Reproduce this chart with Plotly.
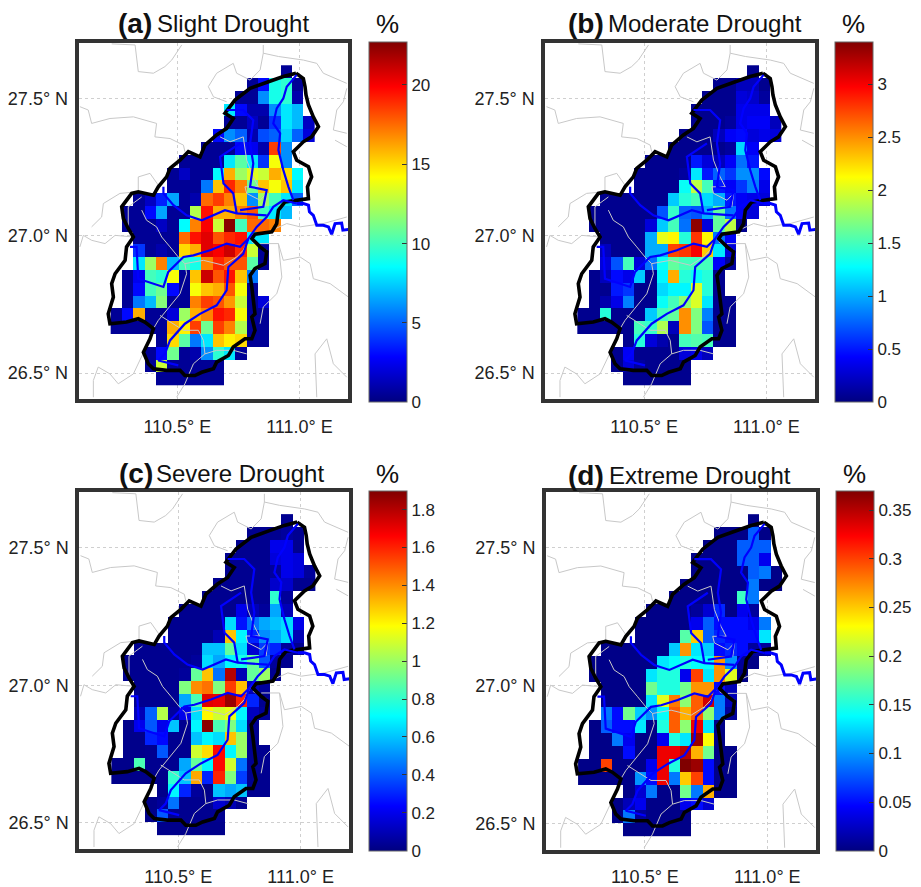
import plotly.graph_objects as go

# ---------- grid of the maps ----------
N_COLS = 18
GRID_LON_WEST = 110.227
GRID_LAT_NORTH = 27.622
CELL_LON = 0.0464
CELL_LAT = 0.0467

# each row, north to south: (first column, values in %)
SLIGHT = [
 (15,[.5]),
 (12,[.5,3,9,9.5,.5]),
 (11,[.5,.5,6,9,9.5,1]),
 (10,[8,3,1,1,6,8,7]),
 (10,[.5,.5,1.5,.5,4,8,7,1.5]),
 (9,[3,6,5,1,4.5,5,7.5,5,2]),
 (8,[.5,.5,.5,3,2.5,1,18.5,6]),
 (6,[.5,.5,.5,.5,8,10.5,8,4,14,6]),
 (5,[.5,1.5,.5,.5,8.5,16,12,13.5,13,16,15,8.5]),
 (5,[.5,.5,.5,5.5,15.5,19,17,11,15.5,14,15.5,8]),
 (2,[.5,1.5,3.5,6.5,.5,1,17.5,18.5,17,15.5,6,12,10,8,5]),
 (1,[.5,.5,3,6.5,.5,.5,12.5,19.5,16,16,17,18,10,8,7]),
 (1,[.5,.5,.5,1.5,.5,8.5,17,20,13,22.5,10,17.5,17.5,17]),
 (2,[.5,.5,.5,.5,17.5,19.5,20.5,18,19,19.5,8,8]),
 (2,[4,.5,1,.5,15,16,20.5,20,21,19,13,.5]),
 (2,[8,12,17,7,10,9,17,19,18,18,10.5,.5]),
 (1,[.5,2.5,10,9.5,14,.5,15.5,21,18,19.5,15.5,5.5]),
 (1,[.5,3,10,11,3,.5,14,15.5,16,18,14,.5]),
 (1,[.5,5.5,7,11.5,.5,.5,17,18.5,18,16.5,13,.5,2]),
 (0,[.5,3,16,.5,.5,2,12,16,17,19.5,19,14,.5,.5]),
 (0,[.5,.5,.5,.5,.5,16,14.5,18.5,11,18.5,17,12.5,.5,.5]),
 (4,[.5,15,10.5,5.5,8,15.5,14.5,15,.5,.5]),
 (3,[.5,3,11,.5,1,6,9.5,8,.5]),
 (3,[.5,13,.5,.5,.5,.5,.5]),
 (4,[.5,.5,.5,.5,.5,.5]),
]
MODERATE = [
 (15,[.05]),
 (12,[.05,.05,.2,.2,.05]),
 (11,[.05,.05,.05,.3,.25,.1]),
 (10,[.05,.05,.05,.05,.35,.35,.35]),
 (10,[.05,.05,.05,.1,.35,.4,.4,.2]),
 (9,[.05,.05,.05,.2,.4,.45,.3,.35,.3]),
 (8,[.05,.05,.05,.05,.05,.1,1.15,.4]),
 (6,[.05,.05,.05,.05,.5,.3,.2,.4,.8,.5]),
 (5,[.05,.05,.05,.05,.1,1.2,.5,.75,.6,.9,.9,.45]),
 (5,[.05,.05,.05,.05,1.3,1.9,1.5,.5,.4,.6,.85,.35]),
 (2,[.05,.05,.05,.05,.05,.05,1.1,1.4,1.5,1.15,1.0,.5,.4,.35,.3]),
 (1,[.05,.05,.05,.05,.05,.05,.7,1.45,.75,.7,1.0,1.6,.8,.4,.3]),
 (1,[.05,.05,.05,.05,.05,.3,1.1,1.5,.8,3.35,.3,1.6,1.9,.05]),
 (2,[.05,.05,.05,.05,1.0,2.05,2.15,1.4,2.8,2.15,.8,.4]),
 (2,[.2,.05,.05,.05,1.0,1.0,2.75,2.8,3.0,2.3,1.2,.3]),
 (2,[.3,.7,1.5,.3,.8,1.3,1.6,1.5,1.5,1.5,.4,.1]),
 (1,[.05,.2,.45,.35,1.1,.05,1.25,2.4,1.4,1.3,1.4,.05]),
 (1,[.05,.05,.5,.6,.05,.05,1.15,1.25,1.25,2.0,1.4,.05]),
 (1,[.05,.15,.35,.85,.05,.05,1.3,1.5,1.75,2.0,1.2,.05,.05]),
 (0,[.05,.05,1.4,.05,.05,.05,1.1,1.5,1.6,2.5,1.7,.85,.05,.05]),
 (0,[.05,.05,.05,.05,.05,1.5,1.45,1.85,.2,2.5,1.7,.7,.05,.05]),
 (4,[.05,1.4,.3,.15,.05,1.5,1.55,1.5,.05,.05]),
 (3,[.05,.4,.05,.05,.05,.05,.3,.35,.2]),
 (3,[.05,.3,.1,.05,.05,.05,.05]),
 (4,[.05,.05,.05,.05,.05,.05]),
]
SEVERE = [
 (15,[.03]),
 (12,[.03,.03,.03,.05,.03]),
 (11,[.03,.03,.03,.2,.2,.03]),
 (10,[.03,.03,.03,.03,.17,.2,.17]),
 (10,[.03,.03,.03,.03,.05,.2,.17,.05]),
 (9,[.03,.03,.03,.03,.03,.14,.14,.03,.03]),
 (8,[.03,.03,.03,.03,.03,.03,.8,.05]),
 (6,[.03,.03,.03,.03,.03,.2,.1,.05,.55,.1]),
 (5,[.03,.03,.03,.03,.03,.65,.27,.45,.55,.6,.65,.2]),
 (5,[.03,.03,.03,.03,.1,1.3,.7,.3,.5,.55,.65,.1]),
 (2,[.03,.03,.03,.03,.03,.03,.6,.6,.9,.65,.15,.35,.3,.05,.03]),
 (1,[.03,.03,.03,.03,.03,.03,.05,.65,.55,.7,.75,.9,.4,.05,.03]),
 (1,[.03,.03,.03,.03,.03,.05,.9,1.3,.45,1.8,.1,.9,1.0,.03]),
 (2,[.03,.03,.03,.03,.95,1.4,1.45,.95,1.55,1.3,.1,.05]),
 (2,[.03,.03,.03,.03,.55,.85,1.72,1.7,1.85,1.6,.3,.03]),
 (2,[.1,.42,1.05,.05,.2,.65,1.2,1.1,1.15,.7,.12,.05]),
 (1,[.02,.2,.4,.2,.6,.03,.7,1.88,.85,.95,.65,.03]),
 (1,[.02,.02,.3,.25,.03,.03,.6,.7,.65,1.3,1.0,.03]),
 (1,[.02,.02,.03,.4,.03,.03,1.1,1.25,1.65,.7,1.0,.03,.03]),
 (0,[.02,.02,.85,.03,.03,.03,.55,.9,.7,1.65,1.1,.45,.03,.03]),
 (0,[.02,.02,.02,.02,.02,.8,.6,1.35,.3,1.6,.95,.35,.03,.03]),
 (4,[.02,.7,.3,.05,.02,.6,.55,.6,.03,.03]),
 (3,[.02,.05,.45,.03,.03,.03,.15,.1,.03]),
 (3,[.02,.4,.03,.03,.03,.03,.03]),
 (4,[.02,.02,.02,.02,.02,.02]),
]
EXTREME = [
 (15,[.003]),
 (12,[.003,.003,.003,.08,.003]),
 (11,[.003,.003,.003,.08,.08,.08]),
 (10,[.003,.003,.003,.003,.08,.08,.04]),
 (10,[.003,.003,.003,.003,.003,.08,.09,.003]),
 (9,[.003,.003,.003,.003,.003,.003,.09,.003,.003]),
 (8,[.003,.003,.003,.003,.003,.003,.16,.09]),
 (6,[.003,.003,.003,.003,.01,.03,.06,.003,.04,.01]),
 (5,[.003,.003,.003,.003,.003,.04,.08,.05,.05,.05,.04,.09]),
 (5,[.003,.003,.003,.003,.17,.25,.08,.06,.05,.05,.05,.13]),
 (2,[.003,.003,.003,.003,.003,.003,.12,.27,.13,.12,.05,.06,.05,.01,.01]),
 (1,[.003,.003,.003,.003,.003,.003,.13,.14,.15,.14,.14,.27,.1,.01,.003]),
 (1,[.003,.003,.003,.003,.003,.13,.15,.15,.04,.3,.13,.27,.22,.003]),
 (2,[.003,.003,.003,.003,.18,.15,.15,.18,.27,.27,.05,.02]),
 (2,[.003,.003,.003,.003,.13,.22,.28,.19,.29,.34,.09,.02]),
 (2,[.09,.05,.18,.12,.1,.14,.29,.26,.29,.19,.09,.01]),
 (1,[.003,.08,.05,.05,.13,.003,.15,.29,.19,.33,.13,.003]),
 (1,[.003,.003,.09,.04,.003,.003,.04,.15,.13,.36,.23,.003]),
 (1,[.003,.003,.003,.05,.003,.003,.33,.33,.35,.26,.18,.003,.003]),
 (0,[.003,.003,.3,.003,.003,.003,.04,.33,.15,.37,.36,.05,.003,.003]),
 (0,[.003,.003,.003,.003,.003,.1,.05,.33,.09,.25,.3,.05,.003,.003]),
 (4,[.003,.03,.09,.003,.003,.18,.09,.26,.003,.003]),
 (3,[.003,.02,.04,.003,.003,.003,.04,.05,.03]),
 (3,[.003,.09,.01,.003,.003,.003,.003]),
 (4,[.003,.003,.003,.003,.003,.003]),
]

# ---------- geography (lon, lat) ----------
BASIN = [(110.986,27.593),(111.016,27.574),(111.023,27.544),(111.027,27.514),(111.037,27.477),(111.057,27.434),
 (111.078,27.398),(111.050,27.361),(111.016,27.343),(110.975,27.307),(110.989,27.276),(111.037,27.252),
 (111.050,27.215),(111.033,27.179),(111.037,27.136),(110.989,27.130),(110.941,27.124),(110.914,27.094),
 (110.907,27.045),(110.887,27.015),(110.818,27.006),(110.805,26.990),(110.839,26.960),(110.866,26.942),
 (110.859,26.899),(110.818,26.881),(110.798,26.856),(110.805,26.814),(110.811,26.765),(110.818,26.716),
 (110.805,26.704),(110.818,26.656),(110.805,26.625),(110.777,26.625),(110.729,26.595),(110.709,26.564),
 (110.661,26.540),(110.648,26.516),(110.600,26.503),(110.572,26.491),(110.531,26.491),(110.511,26.510),
 (110.456,26.510),(110.402,26.516),(110.381,26.534),(110.361,26.576),(110.388,26.625),(110.402,26.662),
 (110.367,26.686),(110.340,26.698),(110.292,26.686),(110.224,26.680),(110.217,26.716),(110.238,26.777),
 (110.231,26.826),(110.245,26.862),(110.286,26.911),(110.292,26.960),(110.320,26.996),(110.299,27.027),
 (110.279,27.063),(110.272,27.106),(110.313,27.155),(110.340,27.161),(110.402,27.148),(110.422,27.179),
 (110.456,27.215),(110.470,27.246),(110.511,27.276),(110.545,27.307),(110.593,27.288),(110.613,27.331),
 (110.661,27.368),(110.702,27.392),(110.729,27.428),(110.695,27.447),(110.736,27.495),(110.798,27.538),
 (110.873,27.562),(110.934,27.581),(110.986,27.593)]

RIVER_TAIL = [(111.201,27.024),(111.178,27.021),(111.173,27.047),(111.146,27.045),(111.132,27.006),(111.119,27.033),
 (111.098,27.039),(111.071,27.039),(111.057,27.075),(111.041,27.088),(111.037,27.112),(111.016,27.118),(110.989,27.118)]

RIVERS = [
 [(110.989,27.118),(110.934,27.130),(110.893,27.106),(110.866,27.069),
  (110.825,27.033),(110.791,26.990),(110.757,26.960),(110.702,26.972),(110.634,26.948),(110.566,26.929),
  (110.525,26.923),(110.463,26.869),(110.443,26.814),(110.340,26.844),(110.333,26.960),(110.306,26.960)],
 [(110.791,26.990),(110.770,26.935),(110.709,26.887),(110.702,26.802),(110.661,26.747),(110.593,26.716),
  (110.531,26.680),(110.470,26.619),(110.449,26.570),(110.422,26.546),(110.504,26.528)],
 [(110.989,27.587),(110.948,27.544),(110.934,27.501),(110.907,27.465),(110.893,27.410),(110.921,27.374),
  (110.914,27.313),(110.934,27.240),(110.955,27.179),(110.975,27.130)],
 [(110.866,27.075),(110.743,27.082),(110.695,27.094),(110.600,27.057),(110.538,27.075),(110.484,27.112),
  (110.443,27.155),(110.443,27.179)],
 [(110.743,27.082),(110.729,27.155),(110.689,27.191),(110.675,27.288),(110.757,27.337)],
 [(110.702,27.459),(110.770,27.459),(110.811,27.422),(110.798,27.337),(110.811,27.264),(110.798,27.179),
  (110.866,27.167),(110.852,27.106),(110.757,27.094)],
]

COUNTIES = [
 [(110.231,27.700),(110.327,27.696)],
 [(110.327,27.696),(110.333,27.641),(110.340,27.599),(110.402,27.593),(110.449,27.617),(110.477,27.641),(110.518,27.696)],
 [(110.101,27.471),(110.135,27.459),(110.149,27.410),(110.224,27.428),(110.320,27.434),(110.415,27.410),
  (110.408,27.361),(110.470,27.355),(110.525,27.331),(110.531,27.307)],
 [(110.627,27.544),(110.661,27.593),(110.729,27.629),(110.743,27.593),(110.798,27.568),(110.839,27.605),
  (110.852,27.666),(110.914,27.654),(111.016,27.641),(111.071,27.629),(111.098,27.593),(111.194,27.556)],
 [(110.852,27.696),(110.852,27.666)],
 [(110.627,27.544),(110.648,27.507),(110.702,27.489)],
 [(111.194,27.538),(111.180,27.489),(111.153,27.459),(111.139,27.386),(111.194,27.374)],
 [(111.194,27.325),(111.146,27.349)],
 [(110.887,27.021),(110.948,27.045),(111.003,27.033),(111.098,27.045),(111.194,27.069)],
 [(110.839,26.972),(110.914,26.972),(110.934,26.911),(111.003,26.923),(111.044,26.899),(111.057,26.844),
  (111.126,26.826),(111.201,26.777)],
 [(110.914,26.972),(110.928,26.850),(110.907,26.789),(110.852,26.741),(110.839,26.680)],
 [(111.071,26.412),(111.064,26.570),(111.112,26.625),(111.139,26.534),(111.194,26.485)],
 [(110.156,26.412),(110.156,26.473),(110.176,26.522),(110.224,26.497),(110.258,26.461),(110.320,26.497),(110.388,26.625)],
 [(110.101,26.960),(110.115,27.002),(110.149,26.984),(110.204,26.972),(110.245,27.002),(110.320,26.996)],
 [(110.149,27.033),(110.190,27.069),(110.197,27.118),(110.265,27.155),(110.340,27.161),(110.340,27.215),
  (110.388,27.228),(110.422,27.185)],
 [(110.354,27.142),(110.299,27.106),(110.299,27.033)],
 [(110.354,27.094),(110.374,27.057),(110.415,27.033),(110.436,26.996),(110.470,26.960),(110.504,26.923),
  (110.531,26.899),(110.538,26.862),(110.511,26.789),(110.456,26.729),(110.422,26.692),(110.402,26.662)],
 [(110.531,26.899),(110.607,26.911),(110.689,26.893),(110.743,26.923),(110.770,26.948),(110.798,26.996)],
 [(110.805,26.978),(110.866,26.948)],
 [(110.675,27.361),(110.716,27.343),(110.770,27.361),(110.784,27.276),(110.811,27.215),(110.832,27.179),
  (110.777,27.179),(110.784,27.155),(110.839,27.130),(110.866,27.155),(110.859,27.106)],
 [(110.429,26.710),(110.484,26.680),(110.525,26.656),(110.586,26.656),(110.607,26.619),(110.613,26.570),
  (110.566,26.534),(110.531,26.461),(110.497,26.412)],
 [(110.613,26.570),(110.661,26.583),(110.729,26.583),(110.784,26.570)],
]

LON_TICKS = [110.5, 111.0]
LON_LABELS = ["110.5° E", "111.0° E"]
LAT_TICKS = [26.5, 27.0, 27.5]
LAT_LABELS = ["26.5° N", "27.0° N", "27.5° N"]

W, H = 921, 887
HF = 883   # vertical fraction base
LON_RANGE = [110.096, 111.199]
LAT_RANGE = [26.405, 27.703]
JET = [[0, "rgb(0,0,128)"], [0.125, "rgb(0,0,255)"], [0.375, "rgb(0,255,255)"],
       [0.625, "rgb(255,255,0)"], [0.875, "rgb(255,0,0)"], [1, "rgb(128,0,0)"]]
FONT = "Liberation Sans, Arial, sans-serif"

PANELS = [
 dict(tag="(a)", name="Slight Drought", rows=SLIGHT, zmax=22.7,
      ticks=[0,5,10,15,20], labels=["0","5","10","15","20"],
      box=(78.7,348,43,398.7), cb=(369,401.7), tagx=115.5, namex=155, ty=23, py=24),
 dict(tag="(b)", name="Moderate Drought", rows=MODERATE, zmax=3.4,
      ticks=[0,.5,1,1.5,2,2.5,3], labels=["0","0.5","1","1.5","2","2.5","3"],
      box=(545.3,815,43,398.7), cb=(834.5,401.7), tagx=565.5, namex=606, ty=23, py=24),
 dict(tag="(c)", name="Severe Drought", rows=SEVERE, zmax=1.9,
      ticks=[0,.2,.4,.6,.8,1,1.2,1.4,1.6,1.8], labels=["0","0.2","0.4","0.6","0.8","1","1.2","1.4","1.6","1.8"],
      box=(79.3,349.3,491.3,848), cb=(369,849.7), tagx=116.5, namex=154, ty=473, py=473),
 dict(tag="(d)", name="Extreme Drought", rows=EXTREME, zmax=0.37,
      ticks=[0,.05,.1,.15,.2,.25,.3,.35], labels=["0","0.05","0.1","0.15","0.2","0.25","0.3","0.35"],
      box=(546,816,491.3,848.7), cb=(835.5,849.7), tagx=565.5, namex=607, ty=475, py=473),
]

def to_grid(rows):
    out = []
    for start, vals in rows:
        out.append([None]*start + list(vals) + [None]*(N_COLS-start-len(vals)))
    return out

lons = [GRID_LON_WEST + (i+.5)*CELL_LON for i in range(N_COLS)]
lats = [GRID_LAT_NORTH - (j+.5)*CELL_LAT for j in range(25)]

fig = go.Figure()
annotations = []
layout_axes = {}
CB_H = 359.4; CB_W = 37.5
GRID_STYLE = dict(showgrid=True, gridcolor="#cfcfcf", griddash="dot", gridwidth=1, zeroline=False,
    showline=True, mirror=True, linecolor="#333333", linewidth=4,
    tickfont=dict(family=FONT, size=18, color="#222"))

for k, p in enumerate(PANELS):
    s = "" if k == 0 else str(k+1)
    xa, ya = "x"+s, "y"+s
    L, R, T, B = p["box"]
    layout_axes["xaxis"+s] = dict(domain=[L/W, R/W], range=LON_RANGE, anchor=ya,
        tickvals=LON_TICKS, ticktext=LON_LABELS, ticks="", ticklabelstandoff=8, **GRID_STYLE)
    layout_axes["yaxis"+s] = dict(domain=[1-B/HF, 1-T/HF], range=LAT_RANGE, anchor=xa,
        tickvals=LAT_TICKS, ticktext=LAT_LABELS, ticks="", ticklabelstandoff=3, **GRID_STYLE)
    cbx, cbb = p["cb"]
    fig.add_trace(go.Heatmap(x=lons, y=lats, z=to_grid(p["rows"]), zmin=0, zmax=p["zmax"],
        colorscale=JET, xaxis=xa, yaxis=ya, hoverongaps=False, showscale=True,
        colorbar=dict(x=cbx/W, xanchor="left", xpad=0, ypad=0, y=1-cbb/HF, yanchor="bottom",
            len=CB_H/HF, lenmode="fraction", thickness=CB_W, thicknessmode="pixels",
            tickvals=p["ticks"], ticktext=p["labels"], ticks="inside", ticklen=5, tickwidth=1, tickcolor="#333",
            outlinecolor="#666", outlinewidth=1, borderwidth=0,
            tickfont=dict(family=FONT, size=17, color="#222"))))
    for seg in COUNTIES:
        fig.add_trace(go.Scatter(x=[q[0] for q in seg], y=[q[1] for q in seg], mode="lines",
            line=dict(color="#c8c8c8", width=1), xaxis=xa, yaxis=ya, showlegend=False, hoverinfo="skip"))
    fig.add_trace(go.Scatter(x=[q[0] for q in BASIN], y=[q[1] for q in BASIN], mode="lines",
        line=dict(color="black", width=3.6), xaxis=xa, yaxis=ya, showlegend=False, hoverinfo="skip"))
    fig.add_trace(go.Scatter(x=[q[0] for q in RIVER_TAIL], y=[q[1] for q in RIVER_TAIL], mode="lines",
        line=dict(color="#0000ff", width=3), xaxis=xa, yaxis=ya, showlegend=False, hoverinfo="skip"))
    for seg in RIVERS:
        fig.add_trace(go.Scatter(x=[q[0] for q in seg], y=[q[1] for q in seg], mode="lines",
            line=dict(color="#0000ff", width=2.2), xaxis=xa, yaxis=ya, showlegend=False, hoverinfo="skip"))
    annotations.append(dict(text="<b>"+p["tag"]+"</b>", xref="paper", yref="paper", x=p["tagx"]/W, y=1-p["ty"]/HF,
        xanchor="left", yanchor="middle", showarrow=False, font=dict(family=FONT, size=28, color="#111")))
    annotations.append(dict(text=p["name"], xref="paper", yref="paper", x=p["namex"]/W, y=1-p["ty"]/HF,
        xanchor="left", yanchor="middle", showarrow=False, font=dict(family=FONT, size=24, color="#111")))
    annotations.append(dict(text="%", xref="paper", yref="paper", x=(cbx+CB_W/2)/W, y=1-p["py"]/HF,
        xanchor="center", yanchor="middle", showarrow=False, font=dict(family=FONT, size=26, color="#111")))

fig.update_layout(width=W, height=H, margin=dict(l=0, r=0, t=0, b=0), paper_bgcolor="white",
    plot_bgcolor="white", showlegend=False, annotations=annotations, **layout_axes)
fig.write_html("out.html", post_script="document.body.style.margin='0';", config={"displayModeBar": False})
